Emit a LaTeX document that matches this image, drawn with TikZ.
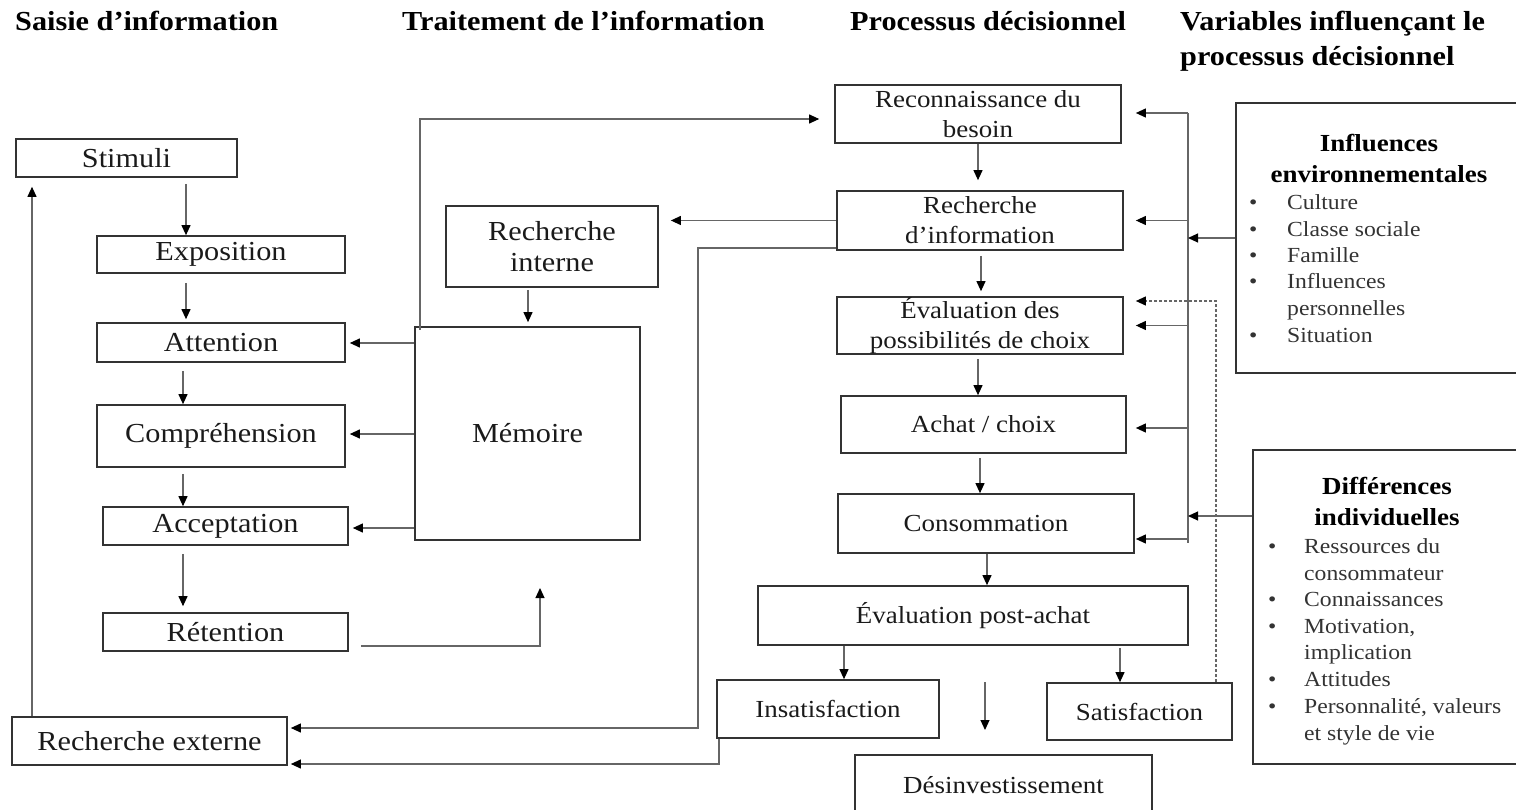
\documentclass[tikz,border=0pt]{standalone}
\usepackage{fontspec}
\setmainfont{Liberation Serif}[FakeStretch=1.1]
\usetikzlibrary{arrows.meta}
\definecolor{boxc}{HTML}{333333}
\definecolor{linec}{HTML}{666666}
\definecolor{txtc}{HTML}{1A1A1A}
\definecolor{listc}{HTML}{333333}
\newcommand\szL{\fontsize{27.5}{31}\selectfont}
\newcommand\szD{\fontsize{24.5}{30}\selectfont}
\newcommand\szH{\fontsize{27.5}{35}\selectfont\bfseries}
\newcommand\szT{\fontsize{24.5}{31}\selectfont\bfseries}
\newcommand\szI{\fontsize{21.5}{26.7}\selectfont}
\begin{document}
\begin{tikzpicture}[x=1pt,y=-1pt,
 box/.style={draw=boxc,line width=1.7pt,inner sep=0pt,align=center,text=txtc},
 lbox/.style={box,font=\szL},
 dbox/.style={box,font=\szD},
 vbox/.style={draw=boxc,line width=1.9pt,inner sep=0pt},
 conn/.style={draw=linec,line width=1.1pt},
 dsh/.style={dash pattern=on 3pt off 2pt},
 arr/.style={-{Triangle[length=10pt,width=9pt,color=black]}},
 hdr/.style={anchor=base west,font=\szH,text=black,inner sep=0pt},
 ttl/.style={align=center,font=\szT,text=black,inner sep=0pt},
 item/.style={anchor=base west,font=\szI,text=listc,inner sep=0pt},
]
\useasboundingbox (0,0) rectangle (1516,810);
\clip (0,0) rectangle (1516,810);

% headers
\node[hdr] (h1) at (15,31) {Saisie d’information};
\node[hdr] (h2) at (402,31) {Traitement de l’information};
\node[hdr] (h3) at (850,31) {Processus décisionnel};
\node[hdr] (h4) at (1180,31) {Variables influençant le};
\node[hdr] (h4b) at (1180,66) {processus décisionnel};

% left column
\node[lbox,minimum width=221pt,minimum height=38pt] (stim) at (126.5,158) {Stimuli};
\node[lbox,minimum width=248pt,minimum height=37pt] (expo) at (221,254.5) {Exposition};
\node[lbox,minimum width=248pt,minimum height=39pt] (atten) at (221,342.5) {Attention};
\node[lbox,minimum width=248pt,minimum height=62pt] (compr) at (221,436) {Compréhension};
\node[lbox,minimum width=245pt,minimum height=38pt] (accep) at (225.5,526) {Acceptation};
\node[lbox,minimum width=245pt,minimum height=38pt] (reten) at (225.5,632) {Rétention};
\node[lbox,minimum width=275pt,minimum height=48pt] (rext) at (149.5,741) {Recherche externe};

% processing
\node[lbox,minimum width=212pt,minimum height=81pt] (rint) at (552,246.5) {Recherche\\interne};
\node[lbox,minimum width=225pt,minimum height=213pt] (mem) at (527.5,433.5) {Mémoire};

% decision
\node[dbox,minimum width=286pt,minimum height=58pt] (recon) at (978,114) {Reconnaissance du\\besoin};
\node[dbox,minimum width=286pt,minimum height=59pt] (rinfo) at (980,220.5) {Recherche\\d’information};
\node[dbox,minimum width=286pt,minimum height=57pt] (evalc) at (980,325.5) {Évaluation des\\possibilités de choix};
\node[dbox,minimum width=285pt,minimum height=57pt] (achat) at (983.5,424.5) {Achat / choix};
\node[dbox,minimum width=296pt,minimum height=59pt] (conso) at (986,523.5) {Consommation};
\node[dbox,minimum width=430pt,minimum height=59pt] (evalp) at (973,615.5) {Évaluation post-achat};
\node[dbox,minimum width=222pt,minimum height=58pt] (insat) at (828,709) {Insatisfaction};
\node[dbox,minimum width=185pt,minimum height=57pt] (satis) at (1139.5,711.5) {Satisfaction};
\node[dbox,minimum width=297pt,minimum height=60pt] (desinv) at (1003.5,785) {Désinvestissement};

% variables
\node[vbox,minimum width=286pt,minimum height=270pt] (infl) at (1379,238) {};
\node[ttl] (inflt) at (1379,158.5) {Influences\\environnementales};
\foreach \yy in {210,237,263,289,343} \node[item] at (1249,\yy) {•};
\node[item] (i1) at (1287,210) {Culture};
\node[item] (i2) at (1287,237) {Classe sociale};
\node[item] (i3) at (1287,263) {Famille};
\node[item] (i4) at (1287,289) {Influences};
\node[item] (i4b) at (1287,316) {personnelles};
\node[item] (i5) at (1287,343) {Situation};

\node[vbox,minimum width=269pt,minimum height=314pt] (diff) at (1387.5,607) {};
\node[ttl] (difft) at (1387,502) {Différences\\individuelles};
\foreach \yy in {553,606,633,686,713} \node[item] at (1268,\yy) {•};
\node[item] (d1) at (1304,553) {Ressources du};
\node[item] (d1b) at (1304,580) {consommateur};
\node[item] (d2) at (1304,606) {Connaissances};
\node[item] (d3) at (1304,633) {Motivation,};
\node[item] (d3b) at (1304,659) {implication};
\node[item] (d4) at (1304,686) {Attitudes};
\node[item] (d5) at (1304,713) {Personnalité, valeurs};
\node[item] (d5b) at (1304,740) {et style de vie};

% lane coordinates
\coordinate (Xa) at (186,0);
\coordinate (Xb) at (183,0);
\coordinate (XL) at (32,0);
\coordinate (Xm) at (528,0);
\coordinate (Xt) at (420,0);
\coordinate (XR) at (698,0);
\coordinate (XI) at (719,0);
\coordinate (Xd1) at (978,0);
\coordinate (Xd2) at (981,0);
\coordinate (Xd3) at (980,0);
\coordinate (Xd4) at (987,0);
\coordinate (XIn) at (844,0);
\coordinate (XSa) at (1120,0);
\coordinate (Xds) at (1216,0);
\coordinate (Ym1) at (0,343);
\coordinate (Ym2) at (0,434);
\coordinate (Ym3) at (0,528);
\coordinate (Y1) at (0,728);
\coordinate (Y2) at (0,764);
\coordinate (Yr) at (0,646);
\coordinate (Yd) at (0,516);
\coordinate (RetEnd) at (540,588);
\coordinate (D1) at (985,682);
\coordinate (D2) at (985,730);
\coordinate (BT) at (1188,113);
\coordinate (BB) at (1188,543);

% left column arrows
\draw[conn,arr,shorten <=6pt] (stim.south -| Xa) -- (expo.north -| Xa);
\draw[conn,arr,shorten <=9pt,shorten >=3pt] (expo.south -| Xa) -- (atten.north -| Xa);
\draw[conn,arr,shorten <=8pt] (atten.south -| Xb) -- (compr.north -| Xb);
\draw[conn,arr,shorten <=6pt] (compr.south -| Xb) -- (accep.north -| Xb);
\draw[conn,arr,shorten <=8pt,shorten >=6pt] (accep.south -| Xb) -- (reten.north -| Xb);
\draw[conn,arr,shorten >=9pt] (rext.north -| XL) -- (stim.south -| XL);
\draw[conn,arr,shorten <=12pt] (reten.east |- Yr) -| (RetEnd);

% memory arrows
\draw[conn,arr,shorten >=4pt] (mem.west |- Ym1) -- (atten.east |- Ym1);
\draw[conn,arr,shorten >=4pt] (mem.west |- Ym2) -- (compr.east |- Ym2);
\draw[conn,arr,shorten >=4pt] (mem.west |- Ym3) -- (accep.east |- Ym3);
\draw[conn,arr,shorten <=2pt,shorten >=4pt] (rint.south -| Xm) -- (mem.north -| Xm);
\draw[conn,arr,shorten <=-4pt,shorten >=15pt] (mem.north -| Xt) |- ([yshift=-5pt]recon.west);
\draw[conn,arr,shorten >=12pt] (rinfo.west) -- (rinfo.west -| rint.east);
\draw[conn,arr,shorten >=3pt] ([yshift=-27.5pt]rinfo.west) -| (XR |- Y1) -- (rext.east |- Y1);
\draw[conn,arr,shorten >=3pt] (insat.south -| XI) |- (rext.east |- Y2);

% decision arrows
\draw[conn,arr,shorten >=10pt] (recon.south -| Xd1) -- (rinfo.north -| Xd1);
\draw[conn,arr,shorten <=5pt,shorten >=5pt] (rinfo.south -| Xd2) -- (evalc.north -| Xd2);
\draw[conn,arr,shorten <=4pt] (evalc.south -| Xd1) -- (achat.north -| Xd1);
\draw[conn,arr,shorten <=4pt] (achat.south -| Xd3) -- (conso.north -| Xd3);
\draw[conn,arr] (conso.south -| Xd4) -- (evalp.north -| Xd4);
\draw[conn,arr] (evalp.south -| XIn) -- (insat.north -| XIn);
\draw[conn,arr,shorten <=2pt] (evalp.south -| XSa) -- (satis.north -| XSa);
\draw[conn,arr] (D1) -- (D2);

% feedback bus
\draw[conn] (BT) -- (BB);
\draw[conn,arr,shorten >=14pt] (BT) -- (BT -| recon.east);
\draw[conn,arr,shorten >=12pt] (BT |- rinfo.east) -- (rinfo.east);
\draw[conn,arr,shorten >=12pt] (BT |- evalc.east) -- (evalc.east);
\draw[conn,arr,shorten >=9pt] (BT |- 0,428) -- ([yshift=-3.5pt]achat.east);
\draw[conn,arr,shorten >=1pt] (BT |- 0,539) -- ([yshift=-15.5pt]conso.east);
\draw[conn,arr] (infl.west) -- (infl.west -| BT);
\draw[conn,arr] (diff.west |- Yd) -- (BT |- Yd);
\draw[conn,dsh,arr,shorten >=12pt] (satis.north -| Xds) |- ([yshift=24.5pt]evalc.east);
\end{tikzpicture}
\end{document}
